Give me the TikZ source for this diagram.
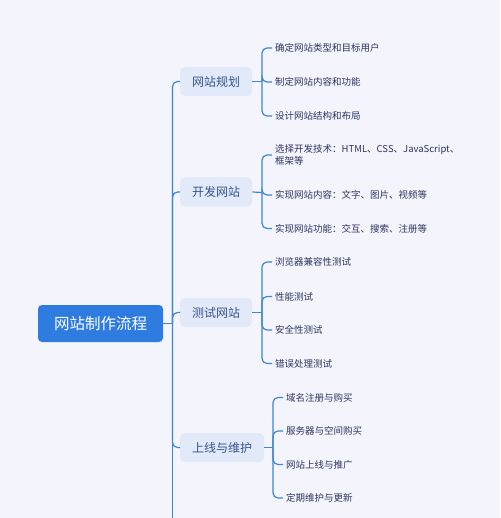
\documentclass[tikz,border=0pt]{standalone}
\usepackage{fontspec}
\setmainfont{Noto Sans CJK SC}
\definecolor{bgc}{HTML}{F4F4FC}
\definecolor{rootc}{HTML}{2F7CE0}
\definecolor{lonec}{HTML}{E2E9F8}
\definecolor{lonetext}{HTML}{35558F}
\definecolor{leaftext}{HTML}{2E3561}
\definecolor{linec}{HTML}{3F86D0}
\begin{document}
\begin{tikzpicture}[x=1pt,y=-1pt,
  rootbox/.style={fill=rootc,text=white,rounded corners=4pt,font=\fontsize{15.5}{18}\selectfont,minimum width=125pt,minimum height=37pt,inner sep=0pt},
  lonebox/.style={fill=lonec,text=lonetext,rounded corners=5pt,font=\fontsize{12}{14}\selectfont,minimum height=29pt,inner xsep=12pt,inner ysep=0pt},
  leaf/.style={text=leaftext,font=\fontsize{9.5}{12}\selectfont,inner xsep=3pt,inner ysep=1pt,anchor=west,align=left},
  conn/.style={draw=linec,line width=1.2pt,rounded corners=5pt},
]
\fill[bgc] (0,0) rectangle (500,518);
\useasboundingbox (0,0) rectangle (500,518);

\node[rootbox] (root) at (100.5,323.5) {网站制作流程};
\coordinate (trunk) at (172.5,323.5);
\coordinate (trunkend) at (172.5,518);

\node[lonebox,anchor=west] (a) at (180,81.5) {网站规划};
\node[lonebox,anchor=west] (b) at (180,192) {开发网站};
\node[lonebox,anchor=west] (c) at (180,312.5) {测试网站};
\node[lonebox,anchor=west] (d) at (180,447.5) {上线与维护};

\draw[conn] (root.east) -- (trunk);
\draw[conn] (trunk) -- (trunkend);
\foreach \n in {a,b,c,d}{\draw[conn] (trunk) |- (\n.west);}

% group a
\coordinate (ba) at (262,81.5);
\node[leaf] (a1) at (272,48) {确定网站类型和目标用户};
\node[leaf] (a2) at (272,82) {制定网站内容和功能};
\node[leaf] (a3) at (272,116) {设计网站结构和布局};
\draw[conn] (a.east) -- (ba);
\foreach \n in {a1,a2,a3}{\draw[conn] (ba) |- (\n.west);}

% group b
\coordinate (bb) at (262,192.5);
\node[leaf] (b1) at (272,155) {选择开发技术：HTML、CSS、JavaScript、\\框架等};
\node[leaf] (b2) at (272,195) {实现网站内容：文字、图片、视频等};
\node[leaf] (b3) at (272,228.5) {实现网站功能：交互、搜索、注册等};
\draw[conn] (b.east) -- (bb);
\foreach \n in {b1,b2,b3}{\draw[conn] (bb) |- (\n.west);}

% group c
\coordinate (bc) at (262,312.5);
\node[leaf] (c1) at (272,262) {浏览器兼容性测试};
\node[leaf] (c2) at (272,296.5) {性能测试};
\node[leaf] (c3) at (272,330) {安全性测试};
\node[leaf] (c4) at (272,363.5) {错误处理测试};
\draw[conn] (c.east) -- (bc);
\foreach \n in {c1,c2,c3,c4}{\draw[conn] (bc) |- (\n.west);}

% group d
\coordinate (bd) at (273,447.5);
\node[leaf] (d1) at (283,397.5) {域名注册与购买};
\node[leaf] (d2) at (283,431) {服务器与空间购买};
\node[leaf] (d3) at (283,464.5) {网站上线与推广};
\node[leaf] (d4) at (283,498) {定期维护与更新};
\draw[conn] (d.east) -- (bd);
\foreach \n in {d1,d2,d3,d4}{\draw[conn] (bd) |- (\n.west);}
\end{tikzpicture}
\end{document}
